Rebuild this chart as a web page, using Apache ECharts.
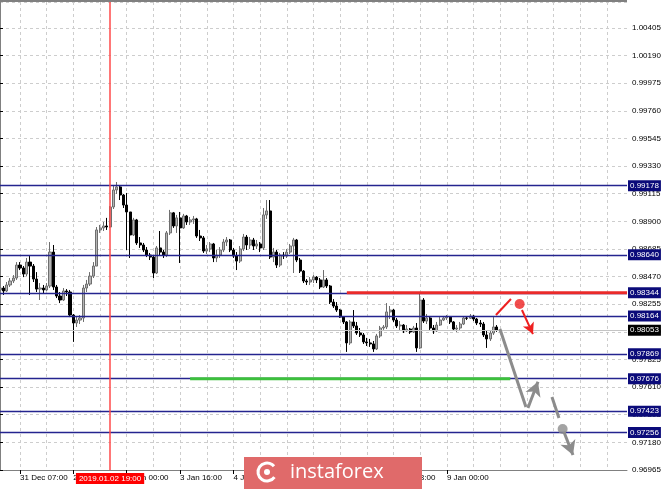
<!DOCTYPE html>
<html><head><meta charset="utf-8">
<script src="https://cdn.jsdelivr.net/npm/echarts@6/dist/echarts.min.js"></script>
<style>html,body{margin:0;padding:0;background:#fff}#c{width:665px;height:489px}</style>
</head><body><div id="c"></div>
<script>
// ---- data ----
const openP = [0.98366,0.98381,0.98358,0.98405,0.98436,0.98459,0.98560,0.98537,0.98490,0.98583,
0.98552,0.98451,0.98373,0.98381,0.98366,0.98397,0.98661,0.98389,0.98319,0.98288,
0.98358,0.98350,0.98171,0.98109,0.98132,0.98148,0.98381,0.98412,0.98474,0.98552,
0.98833,0.98849,0.98864,0.98856,0.99012,0.99144,0.99168,0.99105,0.99027,0.98973,
0.98794,0.98911,0.98732,0.98716,0.98677,0.98638,0.98622,0.98498,0.98693,0.98661,
0.98638,0.98810,0.98966,0.98864,0.98927,0.98849,0.98942,0.98895,0.98911,0.98919,
0.98786,0.98771,0.98669,0.98685,0.98724,0.98615,0.98638,0.98677,0.98739,0.98755,
0.98677,0.98630,0.98591,0.98685,0.98778,0.98716,0.98755,0.98708,0.98724,0.98693,
0.98950,0.98981,0.98622,0.98661,0.98560,0.98638,0.98630,0.98661,0.98708,0.98755,
0.98599,0.98513,0.98436,0.98428,0.98444,0.98466,0.98444,0.98389,0.98444,0.98397,
0.98272,0.98241,0.98210,0.98155,0.98117,0.97954,0.98117,0.98086,0.98031,0.98016,
0.97962,0.97954,0.97946,0.97907,0.98008,0.98070,0.98078,0.98195,0.98210,0.98132,
0.98086,0.98093,0.98047,0.98062,0.98039,0.98070,0.97915,0.98288,0.98124,0.98148,
0.98070,0.98047,0.98093,0.98132,0.98148,0.98155,0.98117,0.98062,0.98070,0.98101,
0.98148,0.98146,0.98163,0.98140,0.98109,0.98101,0.98016,0.97985,0.98031,0.98078];
const closeP = [0.98381,0.98358,0.98405,0.98436,0.98459,0.98560,0.98537,0.98490,0.98583,0.98552,
0.98451,0.98373,0.98381,0.98366,0.98397,0.98661,0.98389,0.98319,0.98288,0.98358,
0.98350,0.98171,0.98109,0.98132,0.98148,0.98381,0.98412,0.98474,0.98552,0.98833,
0.98849,0.98864,0.98856,0.99012,0.99144,0.99168,0.99105,0.99027,0.98973,0.98794,
0.98911,0.98732,0.98716,0.98677,0.98638,0.98622,0.98498,0.98693,0.98661,0.98638,
0.98810,0.98966,0.98864,0.98927,0.98849,0.98942,0.98895,0.98911,0.98919,0.98786,
0.98771,0.98669,0.98685,0.98724,0.98615,0.98638,0.98677,0.98739,0.98755,0.98677,
0.98630,0.98591,0.98685,0.98778,0.98716,0.98755,0.98708,0.98724,0.98693,0.98950,
0.98981,0.98622,0.98661,0.98560,0.98638,0.98630,0.98661,0.98708,0.98755,0.98599,
0.98513,0.98436,0.98428,0.98444,0.98466,0.98444,0.98389,0.98444,0.98397,0.98272,
0.98241,0.98210,0.98155,0.98117,0.97954,0.98117,0.98086,0.98031,0.98016,0.97962,
0.97954,0.97946,0.97907,0.98008,0.98070,0.98078,0.98195,0.98210,0.98132,0.98086,
0.98093,0.98047,0.98062,0.98039,0.98070,0.97915,0.98288,0.98124,0.98148,0.98070,
0.98047,0.98093,0.98132,0.98148,0.98155,0.98117,0.98062,0.98070,0.98101,0.98148,
0.98146,0.98163,0.98140,0.98109,0.98101,0.98016,0.97985,0.98031,0.98078,0.98053];
const lowP = [0.98334,0.98327,0.98350,0.98389,0.98420,0.98444,0.98521,0.98466,0.98474,0.98327,
0.98428,0.98350,0.98288,0.98342,0.98358,0.98381,0.98366,0.98303,0.98264,0.98280,
0.98319,0.98155,0.97962,0.98078,0.98101,0.98117,0.98350,0.98397,0.98459,0.98552,
0.98810,0.98825,0.98833,0.98849,0.98996,0.99113,0.99066,0.99004,0.98677,0.98615,
0.98786,0.98716,0.98693,0.98661,0.98622,0.98599,0.98459,0.98490,0.98630,0.98615,
0.98622,0.98794,0.98849,0.98810,0.98576,0.98841,0.98872,0.98872,0.98880,0.98771,
0.98747,0.98654,0.98646,0.98661,0.98583,0.98583,0.98615,0.98661,0.98708,0.98661,
0.98615,0.98521,0.98576,0.98669,0.98677,0.98685,0.98677,0.98685,0.98661,0.98677,
0.98919,0.98607,0.98583,0.98537,0.98544,0.98607,0.98615,0.98646,0.98498,0.98583,
0.98498,0.98420,0.98405,0.98405,0.98420,0.98420,0.98373,0.98381,0.98381,0.98257,
0.98226,0.98195,0.98148,0.98101,0.97884,0.97938,0.98070,0.98016,0.98000,0.97946,
0.97930,0.97923,0.97884,0.97899,0.97993,0.98055,0.98062,0.98140,0.98117,0.98070,
0.98055,0.98031,0.98039,0.98024,0.98031,0.97884,0.97907,0.98109,0.98101,0.98055,
0.98024,0.98039,0.98086,0.98124,0.98132,0.98101,0.98047,0.98039,0.98055,0.98093,
0.98132,0.98140,0.98124,0.98093,0.98078,0.98000,0.97915,0.97969,0.98016,0.98040];
const highP = [0.98412,0.98397,0.98428,0.98459,0.98482,0.98583,0.98583,0.98552,0.98615,0.98630,
0.98568,0.98505,0.98420,0.98405,0.98420,0.98739,0.98716,0.98405,0.98350,0.98381,
0.98373,0.98366,0.98179,0.98163,0.98171,0.98405,0.98444,0.98505,0.98583,0.98856,
0.98872,0.98895,0.98927,0.99019,0.99183,0.99206,0.99175,0.99113,0.99121,0.98958,
0.98927,0.98919,0.98778,0.98732,0.98700,0.98654,0.98638,0.98708,0.98825,0.98677,
0.98825,0.98989,0.98973,0.98950,0.98973,0.98958,0.98950,0.98934,0.98942,0.98927,
0.98833,0.98786,0.98716,0.98739,0.98732,0.98677,0.98700,0.98763,0.98778,0.98763,
0.98693,0.98661,0.98708,0.98802,0.98794,0.98778,0.98771,0.98755,0.98739,0.99004,
0.99066,0.99066,0.98693,0.98677,0.98654,0.98661,0.98685,0.98724,0.98771,0.98763,
0.98615,0.98521,0.98451,0.98466,0.98482,0.98474,0.98459,0.98521,0.98459,0.98405,
0.98295,0.98272,0.98218,0.98163,0.98124,0.98132,0.98210,0.98117,0.98070,0.98031,
0.97993,0.97985,0.97969,0.98024,0.98086,0.98093,0.98264,0.98241,0.98218,0.98148,
0.98124,0.98101,0.98093,0.98070,0.98086,0.98109,0.98342,0.98303,0.98179,0.98163,
0.98093,0.98117,0.98155,0.98163,0.98171,0.98163,0.98124,0.98093,0.98117,0.98163,
0.98163,0.98179,0.98171,0.98148,0.98132,0.98117,0.98047,0.98047,0.98155,0.98093];

// time axis: hourly bars, skipping the holiday / weekend gaps
const daySegments = [['31 Dec',1,13],['1 Jan',23,1],['2 Jan',0,24],['3 Jan',0,24],['4 Jan',0,24],
  ['7 Jan',0,24],['8 Jan',0,24],['9 Jan',0,24],['10 Jan',0,24],['11 Jan',0,24]];
const slotCount = 189;
const lastBar = closeP.length - 1;
const crossLabel = '2019.01.02 19:00';
const crossIndex = 33;

const yMin = 0.96965, yMax = 1.00607, yStep = 0.00215;
const levels = [0.99178, 0.98640, 0.98344, 0.98164, 0.97869, 0.97676, 0.97423, 0.97256];
const bidPrice = 0.98053;
const resistance = [[104, 0.98344], [188, 0.98344]];
const support = [[57, 0.97676], [153, 0.97676]];
const redStroke = [[148.7, 0.98171], [153.2, 0.98296]];
const redDot = [[155.8, 0.98257]];
const redArrow = [[156.5, 0.98210], [159.8, 0.98023]];
const grayPath = [[149.9, 0.98062], [157.7, 0.97455]];
const grayUp = [[158.3, 0.97447], [161.3, 0.97652]];
const grayDash = [[165.5, 0.97533], [167.6, 0.97370]];
const grayDot = [[168.7, 0.97284]];
const grayDown = [[169.1, 0.97261], [171.8, 0.97082]];

// ---- build ----
const categories = [];
daySegments.forEach(([d, h0, n]) => {
  for (let k = 0; k < n; k++) categories.push(d + ' ' + String(h0 + k).padStart(2, '0') + ':00');
});
categories.length = slotCount;
const candles = openP.map((o, i) => [o, closeP[i], lowP[i], highP[i]]);

const FONT = 'Liberation Sans';
const lblShow = (i) => (i - 6) % 16 === 0 && i >= 6 && i <= lastBar;
const gridShow = (i) => (i - 6) % 8 === 0 && i >= 6;

function seg(pts, color, width, endSym, symSize) {
  return [{ coord: pts[0], symbol: 'none', lineStyle: { color, width, type: 'solid' } },
          { coord: pts[1], symbol: endSym || 'none', symbolSize: symSize || 0 }];
}
const boxLabel = (txt, bg) => ({ show: true, position: 'end', distance: 1, formatter: txt, color: '#fff',
  backgroundColor: bg, padding: [2, 2, 1, 2], fontSize: 8, fontFamily: FONT });

const WM = { z: 100, zlevel: 2 };
const chart = echarts.init(document.getElementById('c'), null, { renderer: 'canvas' });
chart.setOption({
  animation: false,
  backgroundColor: '#ffffff',
  grid: { left: 0, right: 38, top: 2, bottom: 19, containLabel: false },
  xAxis: [{
    type: 'category', data: categories, boundaryGap: false,
    axisLine: { show: true, lineStyle: { color: '#808080', width: 1 } },
    axisTick: { show: true, interval: lblShow, length: 4, lineStyle: { color: '#000' } },
    axisLabel: { show: true, interval: lblShow, align: 'left', margin: 4, fontSize: 8, fontFamily: FONT, color: '#000' },
    splitLine: { show: true, interval: gridShow, lineStyle: { color: '#cdcdcd', type: [3, 3], width: 1 } }
  }, {
    type: 'value', min: 0, max: slotCount - 1, show: false
  }],
  yAxis: [{
    type: 'value', position: 'right', min: yMin, max: yMax, interval: yStep,
    axisLine: { show: true, lineStyle: { color: '#808080', width: 2 } },
    axisTick: { show: true, length: 3, lineStyle: { color: '#000' } },
    axisLabel: { show: true, showMaxLabel: false, showMinLabel: true, margin: 5, fontSize: 8, fontFamily: FONT, color: '#000',
      formatter: (v) => v.toFixed(5) },
    splitLine: { show: true, lineStyle: { color: '#cdcdcd', type: [3, 3], width: 1 } }
  }],
  graphic: [
    { type: 'line', shape: { x1: 0, y1: 1, x2: 627, y2: 1 }, style: { stroke: '#808080', lineWidth: 2 }, z: 10 },
    Object.assign({ type: 'rect', shape: { x: 244, y: 457, width: 178, height: 32 }, style: { fill: '#e06a6a' } }, WM),
    Object.assign({ type: 'arc', shape: { cx: 267, cy: 472, r: 9, startAngle: 0.6, endAngle: 5.6 }, style: { fill: 'none', stroke: '#fff', lineWidth: 3 } }, WM),
    Object.assign({ type: 'circle', shape: { cx: 267, cy: 472, r: 3 }, style: { fill: '#fff' } }, WM),
    Object.assign({ type: 'text', x: 290, y: 472, style: { text: 'instaforex', fill: '#fff', font: '400 20px "Open Sans"', verticalAlign: 'middle' } }, WM)
  ],
  series: [{
    type: 'candlestick', data: candles, barWidth: 2.6, z: 3,
    itemStyle: { color: '#b4b4b4', borderColor: '#6e6e6e', color0: '#000000', borderColor0: '#000000', borderWidth: 1 }
  }, {
    type: 'line', xAxisIndex: 1, data: resistance, symbol: 'none', lineStyle: { color: '#ea2a2a', width: 3 }, z: 5
  }, {
    type: 'line', xAxisIndex: 1, data: support, symbol: 'none', lineStyle: { color: '#3cc03c', width: 3 }, z: 5
  }, {
    type: 'scatter', xAxisIndex: 1, data: redDot, symbolSize: 10, itemStyle: { color: '#ee2020' }, z: 6,
    markLine: {
      silent: true, animation: false, symbol: 'none', precision: 5,
      data: [
        ...levels.map(v => ({ yAxis: v, lineStyle: { color: '#24248f', width: 1.4, type: 'solid' }, label: boxLabel(v.toFixed(5), '#0b0b7a') })),
        { yAxis: bidPrice, lineStyle: { color: '#c4c4c4', width: 1, type: 'solid' }, label: boxLabel(bidPrice.toFixed(5), '#000') },
        { xAxis: crossIndex, lineStyle: { color: '#ff4a4a', width: 1.5, type: 'solid' },
          label: { show: true, position: 'start', distance: 3, formatter: crossLabel, color: '#fff', backgroundColor: '#ff0000',
            padding: [2, 3, 1, 3], fontSize: 8, fontFamily: FONT } },
        seg(redStroke, '#ee2020', 2),
        seg(redArrow, '#ee2020', 2, 'arrow', [9, 11])
      ]
    }
  }, {
    type: 'scatter', xAxisIndex: 1, data: grayDot, symbolSize: 10, itemStyle: { color: '#8c8c8c' }, z: 6,
    markLine: {
      silent: true, animation: false, symbol: 'none', precision: 5, label: { show: false },
      data: [
        seg(grayPath, '#8c8c8c', 3),
        seg(grayUp, '#8c8c8c', 3, 'arrow', [12, 14]),
        seg(grayDash, '#8c8c8c', 3),
        seg(grayDown, '#8c8c8c', 3, 'arrow', [12, 14])
      ]
    }
  }]
});
</script></body></html>
